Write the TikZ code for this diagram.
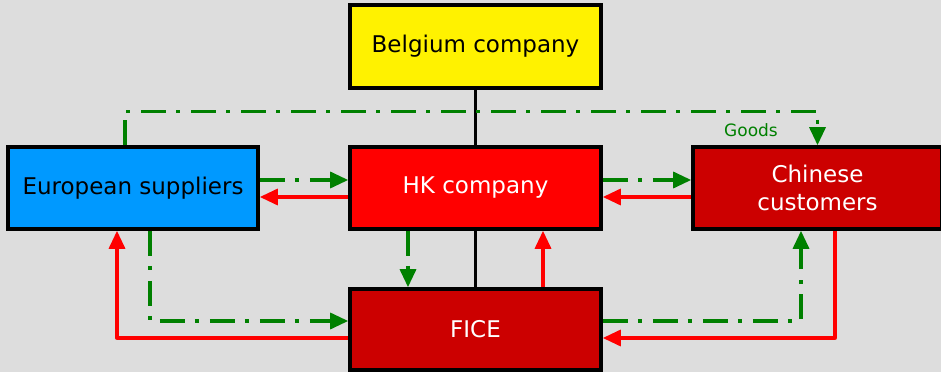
\documentclass[tikz,border=0pt]{standalone}
\usepackage{fontspec}
\setmainfont{DejaVu Sans}
\usetikzlibrary{arrows.meta,calc}
\pgfdeclarelayer{bg}
\pgfsetlayers{bg,main}
\definecolor{canvas}{HTML}{DDDDDD}
\definecolor{goodsgreen}{HTML}{008000}
\definecolor{moneyred}{HTML}{FF0000}
\definecolor{darkred}{HTML}{CC0000}
\definecolor{skyblue}{HTML}{0099FF}
\tikzset{
  entity/.style={draw=black, line width=3.6pt, minimum width=251pt, minimum height=82pt,
    inner sep=0pt, font=\fontsize{23}{28}\selectfont, align=center},
  goods/.style={draw=goodsgreen, line width=3.3pt,
    dash pattern=on 25pt off 10pt on 4pt off 11pt,
    -{Triangle[length=18pt,width=16pt]}},
  money/.style={draw=moneyred, line width=3.3pt, line join=round,
    -{Triangle[length=18pt,width=16pt]}},
}
\begin{document}
\begin{tikzpicture}[x=1pt,y=1pt]
  \begin{pgfonlayer}{bg}
    \fill[canvas] (0,0) rectangle (941,372);
  \end{pgfonlayer}
  \useasboundingbox (0,0) rectangle (941,372);

  % companies and partners
  \node[entity, fill=yellow, minimum height=83pt] (bel) at (475.5,325.5) {Belgium company};
  \node[entity, fill=skyblue, minimum width=250pt] (eu) at (133,184) {European suppliers};
  \node[entity, fill=moneyred, text=white] (hk) at (475.5,184) {HK company};
  \node[entity, fill=darkred, text=white, minimum width=249pt] (cn) at (817.5,184) {Chinese\\customers};
  \node[entity, fill=darkred, text=white, minimum height=81pt] (fice) at (475.5,42.5) {FICE};

  % ownership line behind the HK company
  \begin{pgfonlayer}{bg}
    \draw[black, line width=3.3pt] (bel.south) -- (fice.north);
  \end{pgfonlayer}

  % goods flow (green)
  \draw[goods] ($(eu.north)+(-8,0)$) -- ++(0,34) -| (cn.north);
  \node[text=goodsgreen, font=\fontsize{17}{20}\selectfont] (goodslabel) at (751,242) {Goods};
  \draw[goods] ($(eu.east)+(0,8)$) -- ($(hk.west)+(0,8)$);
  \draw[goods] ($(hk.east)+(0,8)$) -- ($(cn.west)+(0,8)$);
  \draw[goods] ($(hk.south)+(-67.5,0)$) -- ($(fice.north)+(-67.5,0)$);
  \draw[goods] ($(eu.south)+(17,0)$) |- ($(fice.west)+(0,8.5)$);
  \draw[goods] ($(fice.east)+(0,8.5)$) -| ($(cn.south)+(-16.5,0)$);

  % payment flow (red)
  \draw[money] ($(hk.west)+(0,-9)$) -- ($(eu.east)+(0,-9)$);
  \draw[money] ($(cn.west)+(0,-9)$) -- ($(hk.east)+(0,-9)$);
  \draw[money] ($(fice.north)+(67.5,0)$) -- ($(hk.south)+(67.5,0)$);
  \draw[money] ($(fice.west)+(0,-8.5)$) -| ($(eu.south)+(-16,0)$);
  \draw[money] ($(cn.south)+(17.5,0)$) |- ($(fice.east)+(0,-8.5)$);
\end{tikzpicture}
\end{document}
